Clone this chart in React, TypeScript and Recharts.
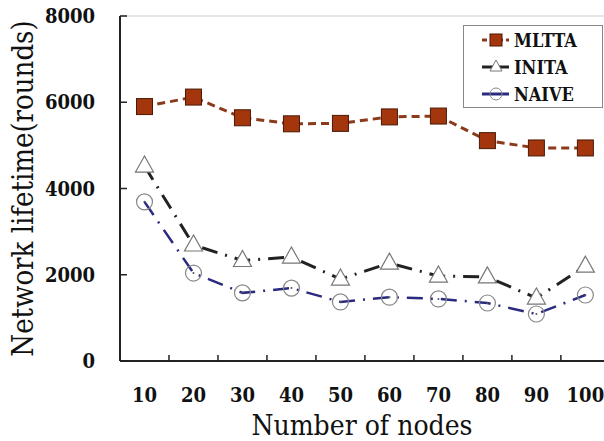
import { LineChart, Line, XAxis, YAxis, Legend, ReferenceLine } from "recharts";

const nodes = [10, 20, 30, 40, 50, 60, 70, 80, 90, 100];
const mltta = [5900, 6120, 5640, 5500, 5510, 5660, 5680, 5110, 4940, 4940];
const inita = [4520, 2690, 2330, 2410, 1900, 2270, 1970, 1950, 1460, 2200];
const naive = [3690, 2040, 1580, 1690, 1370, 1480, 1440, 1345, 1090, 1530];
const yTicks = [0, 2000, 4000, 6000, 8000];

const data = nodes.map((n, i) => ({
  nodes: n,
  MLTTA: mltta[i],
  INITA: inita[i],
  NAIVE: naive[i],
}));

const serif = "DejaVu Serif Condensed";
const W = 604;
const H = 441;
const X_AXIS_H = 80;
const AXIS_Y = H - X_AXIS_H;

const SquareDot = (p: any) => (
  <rect
    key={`sq-${p.index}`}
    x={p.cx - 8}
    y={p.cy - 8}
    width={16}
    height={16}
    fill="#a3360c"
    stroke="#4a1a08"
    strokeWidth={1}
  />
);

const TriDot = (p: any) => (
  <polygon
    key={`tr-${p.index}`}
    points={`${p.cx},${p.cy - 10} ${p.cx - 9},${p.cy + 6} ${p.cx + 9},${p.cy + 6}`}
    fill="#fff"
    stroke="#777"
    strokeWidth={1.2}
  />
);

const CircleDot = (p: any) => (
  <g key={`ci-${p.index}`}>
    <circle cx={p.cx} cy={p.cy} r={8} fill="none" stroke="#888" strokeWidth={1.2} />
    <circle cx={p.cx} cy={p.cy} r={1} fill="#555" />
  </g>
);

// x tick: label under the category, small inward tick at the left band edge
const NodeTick = (p: any) => {
  const edge = p.x - 24.5;
  return (
    <g>
      {p.payload.value !== nodes[0] && (
        <line x1={edge} x2={edge} y1={AXIS_Y} y2={AXIS_Y - 6} stroke="#222" strokeWidth={1.5} />
      )}
      <text
        x={p.x}
        y={AXIS_Y + 41}
        textAnchor="middle"
        style={{ fontFamily: serif, fontWeight: "bold", fontSize: 20, fill: "#111" }}
      >
        {p.payload.value}
      </text>
    </g>
  );
};

function LegendBox() {
  const rows = [
    { name: "MLTTA", color: "#8b3a1c", dash: "5 3" },
    { name: "INITA", color: "#222", dash: "" },
    { name: "NAIVE", color: "#2a2a80", dash: "" },
  ];
  return (
    <svg width={140} height={83} style={{ display: "block" }}>
      <rect x={0.5} y={0.5} width={139} height={82} fill="#fff" stroke="#888" />
      {rows.map((r, i) => {
        const cy = 15 + i * 27;
        return (
          <g key={r.name}>
            <line x1={19} x2={46} y1={cy} y2={cy} stroke={r.color} strokeWidth={3} strokeDasharray={r.dash} />
            {i === 0 && <rect x={27} y={cy - 6} width={12} height={12} fill="#a3360c" stroke="#4a1a08" />}
            {i === 1 && (
              <polygon points={`33,${cy - 7} 27,${cy + 4} 39,${cy + 4}`} fill="#fff" stroke="#777" />
            )}
            {i === 2 && <circle cx={33} cy={cy} r={6} fill="none" stroke="#888" />}
            <text x={51} y={cy + 7} style={{ fontFamily: serif, fontWeight: "bold", fontSize: 18, fill: "#111" }}>
              {r.name}
            </text>
          </g>
        );
      })}
    </svg>
  );
}

export default function App() {
  return (
    <div style={{ position: "absolute", left: 0, top: 0, background: "#fff" }}>
      <LineChart
        width={W}
        height={H}
        data={data}
        margin={{ top: 16, right: 0, bottom: 0, left: 8 }}
      >
        <XAxis
          dataKey="nodes"
          type="number"
          domain={[5, 103.8]}
          ticks={nodes}
          height={X_AXIS_H}
          tickLine={false}
          tickSize={6}
          tickMargin={24}
          axisLine={{ stroke: "#222", strokeWidth: 2 }}
          tick={NodeTick}
          label={{
            value: "Number of nodes",
            position: "insideBottom",
            offset: 6,
            style: { fontFamily: serif, fontSize: 28, fill: "#111" },
          }}
        />
        <YAxis
          domain={[0, 8000]}
          ticks={yTicks}
          width={112}
          tickSize={-7}
          tickMargin={32}
          axisLine={{ stroke: "#222", strokeWidth: 2 }}
          tickLine={{ stroke: "#222", strokeWidth: 1.5 }}
          tick={{ style: { fontFamily: serif, fontWeight: "bold", fontSize: 20, fill: "#111" } }}
          label={{
            value: "Network lifetime(rounds)",
            angle: -90,
            position: "center",
            dx: -41,
            style: { fontFamily: serif, fontSize: 29, fill: "#111" },
          }}
        />
        <ReferenceLine y={8000} stroke="#ddd" strokeWidth={1.5} />
        <Legend
          layout="vertical"
          align="center"
          verticalAlign="middle"
          wrapperStyle={{ top: 25, left: 463, width: 140, height: 83 }}
          content={() => <LegendBox />}
        />
        <Line
          dataKey="MLTTA"
          stroke="#8b3a1c"
          strokeWidth={3}
          strokeDasharray="8 5"
          dot={SquareDot}
          isAnimationActive={false}
        />
        <Line
          dataKey="INITA"
          stroke="#222"
          strokeWidth={3}
          strokeDasharray="16 8 2 8"
          dot={TriDot}
          isAnimationActive={false}
        />
        <Line
          dataKey="NAIVE"
          stroke="#2a2a80"
          strokeWidth={2.5}
          strokeDasharray="16 8 2 8"
          dot={CircleDot}
          isAnimationActive={false}
        />
      </LineChart>
    </div>
  );
}
